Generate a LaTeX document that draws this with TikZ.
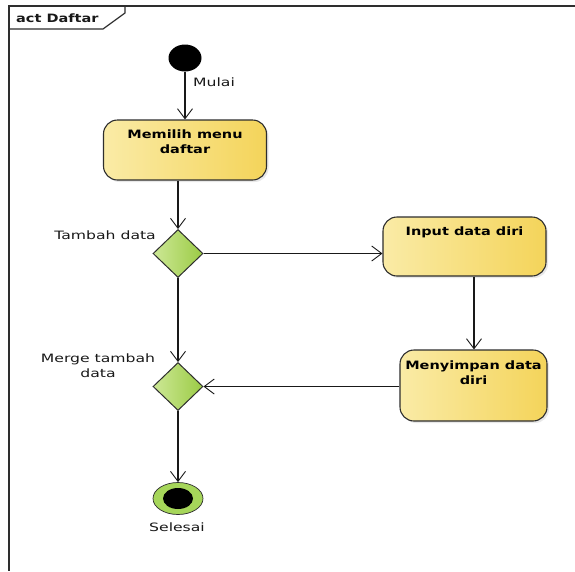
\documentclass[tikz,border=0pt]{standalone}
\usepackage{fontspec}
\setmainfont{DejaVu Sans}[FakeStretch=1.36, BoldFeatures={FakeStretch=1.26}]
\usetikzlibrary{arrows.meta,shapes.geometric,shadows}
\definecolor{boxL}{HTML}{FAEBA6}
\definecolor{boxR}{HTML}{F4D45A}
\definecolor{dmL}{HTML}{CDE896}
\definecolor{dmR}{HTML}{9BCB45}
\definecolor{ringG}{HTML}{A6D65A}
\definecolor{edge}{HTML}{2E2E2E}
\tikzset{
  every node/.style={font=\fontsize{11.5}{13}\selectfont},
  actbox/.style={draw=edge, line width=1.1pt, rounded corners=14pt, left color=boxL, right color=boxR,
     drop shadow={opacity=0.18, shadow xshift=2pt, shadow yshift=-2pt}, inner sep=0pt},
  boxtext/.style={font=\fontsize{11.5}{15}\selectfont\bfseries, align=center, anchor=north, inner sep=0pt},
  decision/.style={diamond, draw=edge, line width=1pt, left color=dmL, right color=dmR, inner sep=0pt,
     minimum width=50pt, minimum height=48pt, aspect=1},
  flow/.style={draw=black!90, line width=1.1pt, -{Straight Barb[length=10pt,width=15pt,line width=0.9pt]}},
  lbl/.style={inner sep=0pt, text=black!90}
}
\begin{document}
\begin{tikzpicture}[x=1pt,y=-1pt]
\useasboundingbox (0,0) rectangle (575,571);
\fill[white] (0,0) rectangle (575,571);
% frame
\draw[edge, line width=1.5pt] (575,6) -- (9,6) -- (9,571);
\draw[edge, line width=1.2pt] (9,29) -- (103,29) -- (125,13) -- (125,6);
\node[lbl, font=\fontsize{11.5}{13}\selectfont\bfseries, anchor=west] (title) at (16,18) {act Daftar};
% initial
\node[ellipse, fill=black, minimum width=33pt, minimum height=27pt, inner sep=0pt] (start) at (185,58) {};
\node[lbl, anchor=west] (mulai) at (193,82) {Mulai};
% boxes
\node[actbox, minimum width=163pt, minimum height=60pt] (memilih) at (185,150) {};
\node[boxtext] (memilihT) at ([yshift=-10pt]memilih.north) {Memilih menu\\daftar};
\node[actbox, minimum width=163pt, minimum height=59pt] (input) at (464.5,246.5) {};
\node[boxtext] (inputT) at ([yshift=-10pt]input.north) {Input data diri};
\node[actbox, minimum width=147pt, minimum height=71pt] (simpan) at (473.5,385.5) {};
\node[boxtext] (simpanT) at ([yshift=-11pt]simpan.north) {Menyimpan data\\diri};
% decisions
\node[decision] (tambah) at (178,253.5) {};
\node[lbl, anchor=east] (tambahT) at (156,235) {Tambah data};
\node[decision] (merge) at (178,386.5) {};
\node[lbl, align=center, font=\fontsize{11.5}{15}\selectfont] (mergeT) at (98,366) {Merge tambah\\data};
% final
\node[ellipse, draw=edge, line width=0.7pt, fill=ringG, minimum width=50pt, minimum height=32pt, inner sep=0pt] (end) at (178,498.5) {};
\node[ellipse, fill=black, minimum width=30pt, minimum height=21pt, inner sep=0pt] (endin) at (178,498.5) {};
\node[lbl] (selesai) at (177,527) {Selesai};
% connectors
\draw[flow] (start.south) -- (memilih.north);
\draw[flow] (memilih.south -| tambah.north) -- (tambah.north);
\draw[flow] (tambah.east) -- (input.west |- tambah.east);
\draw[flow] (input.south -| 474,0) -- (simpan.north -| 474,0);
\draw[flow] (simpan.west |- merge.east) -- (merge.east);
\draw[flow] (tambah.south) -- (merge.north);
\draw[flow] (merge.south) -- (end.north);
\end{tikzpicture}
\end{document}
